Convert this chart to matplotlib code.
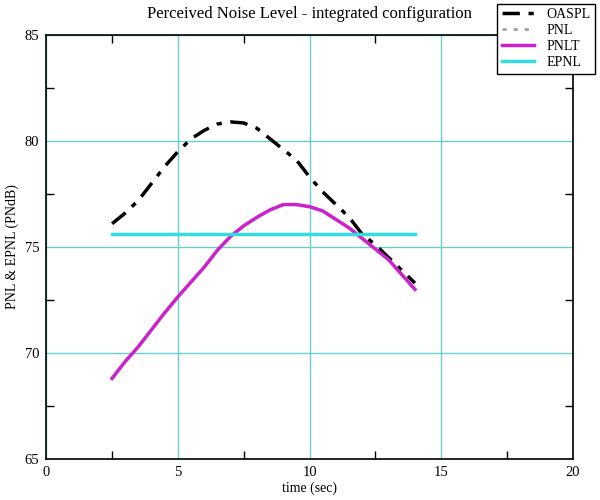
import matplotlib
matplotlib.use('Agg')
import matplotlib.pyplot as plt
from matplotlib.ticker import MultipleLocator

# valores
tempo = [2.5, 3, 3.5, 4, 4.5, 5, 5.5, 6, 6.5, 7, 7.5, 8, 8.5, 9, 9.5, 10,
         10.5, 11, 11.5, 12, 12.5, 13, 13.5, 14]
oaspl = [76.1, 76.6, 77.2, 78.0, 78.8, 79.5, 80.1, 80.5, 80.8, 80.9, 80.85, 80.6,
         80.1, 79.6, 79.1, 78.3, 77.6, 77.0, 76.4, 75.6, 75.1, 74.5, 73.9, 73.3]
pnlt = [68.8, 69.6, 70.3, 71.1, 71.9, 72.65, 73.35, 74.05, 74.85, 75.5, 76.0, 76.4,
        76.75, 77.0, 77.0, 76.9, 76.7, 76.3, 75.9, 75.4, 74.9, 74.4, 73.7, 73.0]
pnl = pnlt
epnl_tempo = [2.5, 14]
epnl = [75.6, 75.6]

plt.rcParams['font.family'] = ['Liberation Serif', 'DejaVu Serif']

fig = plt.figure(figsize=(6, 5), dpi=100)
ax = fig.add_axes([0.077, 0.082, 0.878, 0.848])

ax.plot(tempo, pnl, color='#a0a0a0', linestyle=(0, (1.5, 2.5)), linewidth=2, label='PNL', zorder=2)
ax.plot(tempo, oaspl, color='black', linestyle=(0, (5, 2.5, 1.5, 2.5)), linewidth=2.5, label='OASPL', zorder=3)
ax.plot(tempo, pnlt, color='#cc22cc', linewidth=2.5, label='PNLT', zorder=3)
ax.plot(epnl_tempo, epnl, color='#33dddd', linewidth=2.5, label='EPNL', zorder=3)

ax.set_xlim(0, 20)
ax.set_ylim(65, 85)
ax.xaxis.set_major_locator(MultipleLocator(5))
ax.xaxis.set_minor_locator(MultipleLocator(2.5))
ax.yaxis.set_major_locator(MultipleLocator(5))
ax.yaxis.set_minor_locator(MultipleLocator(2.5))
ax.tick_params(which='both', direction='in', top=True, right=True, labelsize=10.5)
ax.tick_params(which='major', length=0, pad=5)
ax.tick_params(which='minor', length=6, width=1)
ax.grid(True, which='major', color='#6ccccc', linewidth=1)
for s in ax.spines.values():
    s.set_linewidth(1.2)

ax.set_title('Perceived Noise Level - integrated configuration', fontsize=12, pad=12)
ax.set_xlabel('time (sec)', fontsize=10, labelpad=2)
ax.set_ylabel('PNL & EPNL (PNdB)', fontsize=10, labelpad=4)

handles, labels = ax.get_legend_handles_labels()
ordem = [1, 0, 2, 3]
leg = fig.legend([handles[i] for i in ordem], [labels[i] for i in ordem],
                 loc='upper left', bbox_to_anchor=(0.828, 0.993), fontsize=10,
                 fancybox=False, edgecolor='black', framealpha=1, handlelength=2.3,
                 labelspacing=0.2, borderpad=0.35, handletextpad=0.9, borderaxespad=0)
leg.get_frame().set_linewidth(1)

fig.savefig('out.png', dpi=100)
